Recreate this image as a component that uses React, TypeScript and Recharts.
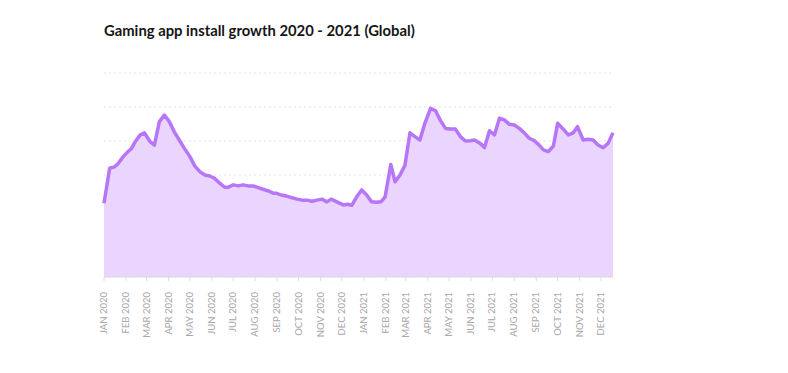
import { AreaChart, Area, XAxis, YAxis, CartesianGrid } from 'recharts'

// days since 1 Jan 2020 for each sample
const dayOffsets = [
  0, 8, 15, 20, 27, 34, 39, 44, 51, 57, 65, 71, 78, 85, 92, 99, 106, 113, 121, 128,
  135, 142, 149, 156, 163, 170, 175, 182, 189, 196, 203, 210, 217, 224, 232, 239,
  243, 250, 257, 265, 272, 279, 286, 293, 300, 307, 314, 320, 328, 337, 343, 349,
  356, 363, 370, 377, 384, 390, 396, 404, 410, 417, 424, 431, 438, 445, 452, 460,
  467, 474, 481, 488, 495, 502, 509, 516, 522, 530, 536, 543, 550, 557, 564, 571,
  578, 585, 592, 599, 606, 613, 619, 626, 633, 639, 646, 654, 661, 667, 675, 682,
  689, 696, 703, 710, 717,
]

const installs = [
  21.7, 32.0, 32.4, 33.4, 35.4, 36.9, 37.9, 39.8, 41.8, 42.4, 39.8, 38.8, 45.7, 47.6, 45.7, 42.7, 40.3, 37.9, 35.4, 32.6,
  31.0, 30.0, 29.7, 29.0, 27.6, 26.4, 26.4, 27.1, 26.8, 27.1, 26.8, 26.8, 26.3, 25.8, 25.3, 24.6,
  24.6, 24.1, 23.8, 23.3, 22.9, 22.6, 22.6, 22.3, 22.6, 22.9, 22.1, 22.9, 22.1, 21.2, 21.4, 21.1,
  23.6, 25.6, 24.1, 22.1, 22.0, 22.1, 23.6, 33.1, 28.0, 30.0, 32.9, 42.4, 41.3, 40.3, 45.2, 49.6,
  48.9, 46.0, 43.7, 43.5, 43.5, 41.3, 40.0, 40.1, 40.3, 39.3, 38.1, 43.0, 41.8, 46.7, 46.2, 44.9,
  44.7, 43.7, 42.4, 40.8, 40.1, 38.8, 37.4, 36.9, 38.5, 45.2, 43.7, 41.8, 42.4, 44.2, 40.3, 40.5,
  40.3, 38.8, 38.0, 39.3, 42.4,
]

const monthStarts = [0, 31, 60, 91, 121, 152, 182, 213, 244, 274, 305, 335, 366, 397, 425, 456, 486, 517, 547, 578, 609, 639, 670, 700]
const monthLabels = [
  'JAN 2020', 'FEB 2020', 'MAR 2020', 'APR 2020', 'MAY 2020', 'JUN 2020',
  'JUL 2020', 'AUG 2020', 'SEP 2020', 'OCT 2020', 'NOV 2020', 'DEC 2020',
  'JAN 2021', 'FEB 2021', 'MAR 2021', 'APR 2021', 'MAY 2021', 'JUN 2021',
  'JUL 2021', 'AUG 2021', 'SEP 2021', 'OCT 2021', 'NOV 2021', 'DEC 2021',
]
const yTicks = [0, 10, 20, 30, 40, 50, 60]

const data = dayOffsets.map((d, i) => ({ day: d, value: installs[i] }))

// eslint-disable-next-line @typescript-eslint/no-explicit-any
function MonthTick({ x, y, payload }: any) {
  const idx = monthStarts.indexOf(payload.value)
  return (
    <text
      transform={`translate(${x + 3}, ${y + 9}) rotate(-90)`}
      textAnchor="end"
      fontSize={9.5}
      fill="#a8a8a8"
      fontFamily="Lato, sans-serif"
    >
      {monthLabels[idx]}
    </text>
  )
}

export default function App() {
  return (
    <div
      style={{
        position: 'absolute',
        left: 0,
        top: 0,
        width: 788,
        height: 373,
        background: '#fff',
        fontFamily: 'Lato, sans-serif',
      }}
    >
      <div
        style={{
          position: 'absolute',
          left: 104,
          top: 21,
          fontSize: 14.8,
          fontWeight: 700,
          color: '#151515',
          whiteSpace: 'nowrap',
        }}
      >
        Gaming app install growth 2020 - 2021 (Global)
      </div>
      <AreaChart
        width={788}
        height={373}
        data={data}
        margin={{ top: 73, right: 175, bottom: 0, left: 104 }}
      >
        <CartesianGrid vertical={false} stroke="#e2e2e2" strokeDasharray="2 3" />
        <XAxis
          dataKey="day"
          type="number"
          domain={[0, 717]}
          ticks={monthStarts}
          tick={<MonthTick />}
          interval={0}
          stroke="#dcdcdc"
          tickLine={{ stroke: '#dcdcdc' }}
          tickSize={4}
          height={96}
        />
        <YAxis hide domain={[0, 60]} ticks={yTicks} />
        <Area
          type="linear"
          dataKey="value"
          stroke="#b676f7"
          strokeWidth={3.5}
          strokeLinejoin="round"
          fill="#e9d5fd"
          fillOpacity={1}
          dot={false}
          activeDot={false}
          isAnimationActive={false}
        />
      </AreaChart>
    </div>
  )
}
